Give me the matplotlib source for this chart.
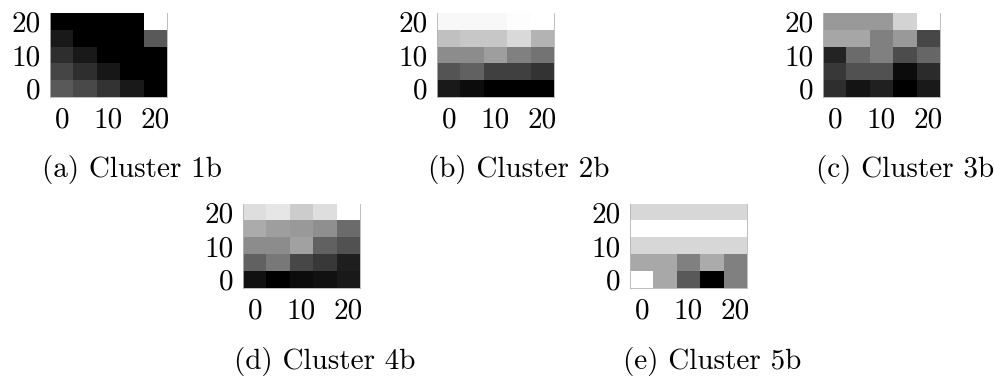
import matplotlib
matplotlib.use("Agg")
import matplotlib.pyplot as plt
import numpy as np

plt.rcParams['font.family'] = 'serif'
plt.rcParams['font.serif'] = ['cmr10']
plt.rcParams['mathtext.fontset'] = 'cm'
plt.rcParams['axes.formatter.use_mathtext'] = True

# cluster intensity maps, rows listed from top (y=20) to bottom (y=0)
cluster_1b = [
    [0.00, 0.00, 0.00, 0.00, 1.00],
    [0.10, 0.00, 0.00, 0.00, 0.35],
    [0.18, 0.10, 0.00, 0.00, 0.00],
    [0.27, 0.18, 0.09, 0.00, 0.00],
    [0.35, 0.29, 0.20, 0.10, 0.00],
]
cluster_2b = [
    [0.97, 0.97, 0.97, 0.99, 1.00],
    [0.75, 0.78, 0.78, 0.85, 0.70],
    [0.55, 0.55, 0.62, 0.50, 0.45],
    [0.33, 0.38, 0.25, 0.25, 0.20],
    [0.10, 0.05, 0.00, 0.00, 0.00],
]
cluster_3b = [
    [0.60, 0.60, 0.60, 0.83, 1.00],
    [0.65, 0.65, 0.50, 0.60, 0.28],
    [0.14, 0.42, 0.50, 0.30, 0.40],
    [0.22, 0.32, 0.32, 0.05, 0.17],
    [0.18, 0.08, 0.13, 0.00, 0.10],
]
cluster_4b = [
    [0.87, 0.90, 0.80, 0.87, 1.00],
    [0.67, 0.62, 0.60, 0.56, 0.42],
    [0.55, 0.55, 0.63, 0.38, 0.32],
    [0.38, 0.47, 0.28, 0.22, 0.12],
    [0.07, 0.00, 0.05, 0.07, 0.10],
]
cluster_5b = [
    [0.84, 0.84, 0.84, 0.84, 0.84],
    [1.00, 1.00, 1.00, 1.00, 1.00],
    [0.84, 0.84, 0.84, 0.84, 0.84],
    [0.66, 0.66, 0.50, 0.67, 0.50],
    [1.00, 0.66, 0.35, 0.00, 0.50],
]

grid_centers = [0, 5, 10, 15, 20]
tick_values = [0, 10, 20]
tick_labels = ['0', '10', '20']
captions = ['(a) Cluster 1b', '(b) Cluster 2b', '(c) Cluster 3b',
            '(d) Cluster 4b', '(e) Cluster 5b']
maps = [cluster_1b, cluster_2b, cluster_3b, cluster_4b, cluster_5b]

W, H = 994, 379
fig = plt.figure(figsize=(W / 100, H / 100), dpi=100)

# image left edge and top edge in pixels for each panel
panel_px = [(50, 13), (437, 13), (823, 13), (243, 204), (630, 204)]
img_w, img_h = 117, 84
caption_offset = 82

half = (grid_centers[1] - grid_centers[0]) / 2
extent = (grid_centers[0] - half, grid_centers[-1] + half,
          grid_centers[0] - half, grid_centers[-1] + half)

for data, caption, (px, py) in zip(maps, captions, panel_px):
    ax = fig.add_axes([px / W, 1 - (py + img_h) / H, img_w / W, img_h / H])
    ax.imshow(np.array(data), cmap='gray', vmin=0, vmax=1, origin='upper',
              extent=extent, aspect='auto', interpolation='nearest')
    ax.set_xticks(tick_values, tick_labels)
    ax.set_yticks(tick_values, tick_labels)
    ax.tick_params(length=0, pad=7, labelsize=21)
    # faint frame around the image, none on top
    for side, spine in ax.spines.items():
        spine.set_visible(side != 'top')
        spine.set_linewidth(0.6)
        spine.set_color('#b4b4b4')
    fig.text((px + caption_offset) / W, 1 - (py + 157) / H, caption,
             ha='center', va='center', fontsize=21)

fig.savefig('out.png', dpi=100)
